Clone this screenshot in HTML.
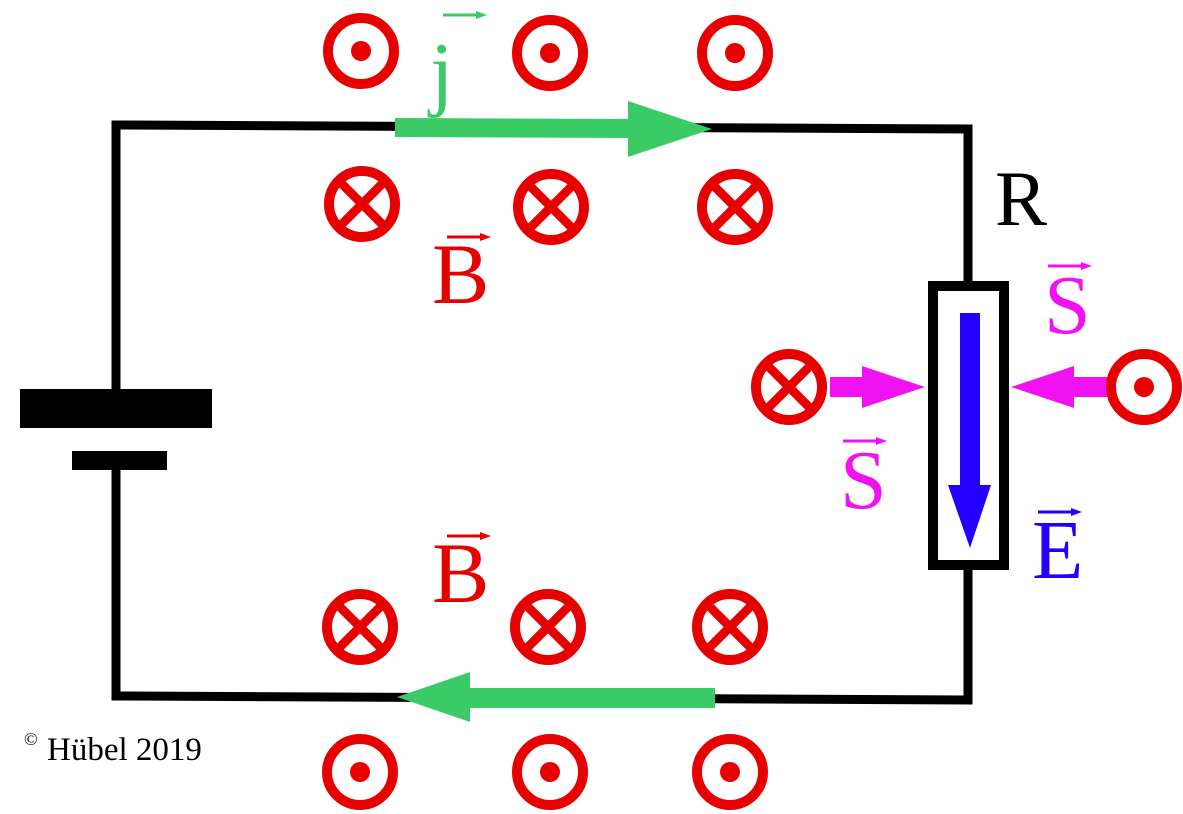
<!DOCTYPE html>
<html><head><meta charset="utf-8"><style>
html,body{margin:0;padding:0;background:#fff;}
svg{display:block;}
text{font-family:"Liberation Serif",serif;}
</style></head><body>
<svg width="1183" height="814" viewBox="0 0 1183 814" xmlns="http://www.w3.org/2000/svg">
<defs>
<g id="dot"><circle r="33" fill="none" stroke="#e60000" stroke-width="10"/><circle r="10" fill="#e60000"/></g>
<g id="cross"><circle r="33" fill="none" stroke="#e60000" stroke-width="10"/><line x1="-25" y1="-25" x2="25" y2="25" stroke="#e60000" stroke-width="9"/><line x1="25" y1="-25" x2="-25" y2="25" stroke="#e60000" stroke-width="9"/></g>
</defs>
<polyline points="116,389 116,125 968,129 968,281" fill="none" stroke="#000" stroke-width="9"/>
<polyline points="116,470 116,696 968,700 968,570" fill="none" stroke="#000" stroke-width="9"/>
<rect x="20" y="389" width="192" height="39" fill="#000"/>
<rect x="72" y="451" width="95" height="19" fill="#000"/>
<rect x="933" y="286" width="71" height="279" fill="#fff" stroke="#000" stroke-width="10"/>
<rect x="960" y="313" width="20" height="173" fill="#2200ff"/>
<polygon points="948,485 991,485 970,548" fill="#2200ff"/>
<polygon points="395,118 628,119 628,101 712,129 628,157 628,138 395,137" fill="#3acb66"/>
<polygon points="715,688 470,688 470,672 397,697 470,722 470,708 715,708" fill="#3acb66"/>
<polygon points="830,377 862,377 862,366 925,387 862,408 862,397 830,397" fill="#f012f0"/>
<polygon points="1107,377 1074,377 1074,366 1011,387 1074,408 1074,397 1107,397" fill="#f012f0"/>
<use href="#dot" x="361" y="51"/><use href="#dot" x="550" y="53"/><use href="#dot" x="735" y="53"/>
<use href="#cross" x="362" y="204"/><use href="#cross" x="551" y="207"/><use href="#cross" x="735" y="207"/>
<use href="#cross" x="360" y="627"/><use href="#cross" x="548" y="627"/><use href="#cross" x="730" y="627"/>
<use href="#dot" x="360" y="772"/><use href="#dot" x="550" y="772"/><use href="#dot" x="730" y="772"/>
<use href="#cross" x="789" y="387"/><use href="#dot" x="1144" y="387"/>
<text x="430" y="100" font-size="84" fill="#3acb66">j</text>
<line x1="443" y1="15" x2="478" y2="15" stroke="#3acb66" stroke-width="3"/><polygon points="476,11 487,15 476,19" fill="#3acb66"/>
<text x="432" y="303" font-size="86" fill="#e60000">B</text>
<line x1="447" y1="237" x2="482" y2="237" stroke="#e60000" stroke-width="3"/><polygon points="480,233 491,237 480,241" fill="#e60000"/>
<text x="432" y="602" font-size="86" fill="#e60000">B</text>
<line x1="447" y1="536" x2="482" y2="536" stroke="#e60000" stroke-width="3"/><polygon points="480,532 491,536 480,540" fill="#e60000"/>
<text x="995" y="225" font-size="78" fill="#000">R</text>
<text x="1044" y="333" font-size="84" fill="#f012f0">S</text>
<line x1="1048" y1="266" x2="1083" y2="266" stroke="#f012f0" stroke-width="3"/><polygon points="1081,262 1092,266 1081,270" fill="#f012f0"/>
<text x="840" y="508" font-size="84" fill="#f012f0">S</text>
<line x1="843" y1="441" x2="878" y2="441" stroke="#f012f0" stroke-width="3"/><polygon points="876,437 887,441 876,445" fill="#f012f0"/>
<text x="1032" y="578" font-size="84" fill="#2200ff">E</text>
<line x1="1038" y1="512" x2="1073" y2="512" stroke="#2200ff" stroke-width="3"/><polygon points="1071,508 1082,512 1071,516" fill="#2200ff"/>
<text x="24" y="745" font-size="18" fill="#000">©</text>
<text x="47" y="760" font-size="33" fill="#000">Hübel 2019</text>
</svg>
</body></html>
